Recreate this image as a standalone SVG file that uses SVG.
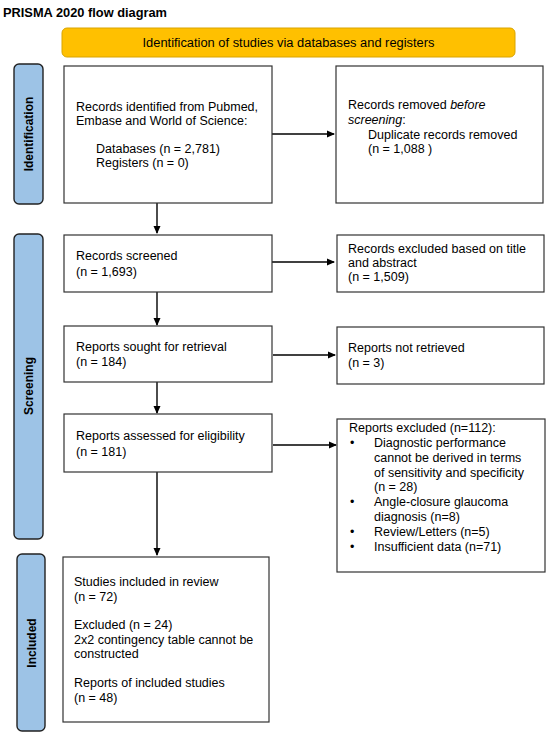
<svg xmlns="http://www.w3.org/2000/svg" width="550" height="737" viewBox="0 0 550 737">
<defs>
<marker id="ah" markerWidth="8" markerHeight="8" refX="7" refY="4" orient="auto" markerUnits="userSpaceOnUse">
<path d="M0,0.5 L8,4 L0,7.5 Z" fill="#000"/>
</marker>
<style>
.box{fill:#fff;stroke:#333;stroke-width:1.2}
.side{fill:#9DC3E6;stroke:#222;stroke-width:1.4}
.t{font-family:"Liberation Sans",Arial,sans-serif;font-size:12.5px;fill:#000}
.st{font-family:"Liberation Sans",Arial,sans-serif;font-size:12px;font-weight:bold;fill:#000}
.c{fill:none;stroke:#000;stroke-width:1.4}
</style>
</defs>
<rect width="550" height="737" fill="#fff"/>
<text x="3" y="17" font-family="'Liberation Sans',Arial,sans-serif" font-size="13" font-weight="bold" textLength="164" lengthAdjust="spacingAndGlyphs">PRISMA 2020 flow diagram</text>
<g id="banner">
<rect x="62" y="28" width="453" height="29" rx="5" fill="#FFC000" stroke="#D9A400" stroke-width="1"/>
<text x="288.5" y="47" text-anchor="middle" font-family="'Liberation Sans',Arial,sans-serif" font-size="12.5" textLength="292" lengthAdjust="spacingAndGlyphs">Identification of studies via databases and registers</text>
</g>
<g id="side-identification">
<rect class="side" x="14" y="64" width="29" height="140" rx="5"/>
<text class="st" transform="translate(33,134) rotate(-90)" text-anchor="middle">Identification</text>
</g>
<g id="side-screening">
<rect class="side" x="14" y="234" width="29" height="305" rx="5"/>
<text class="st" transform="translate(33,386) rotate(-90)" text-anchor="middle">Screening</text>
</g>
<g id="side-included">
<rect class="side" x="17" y="554" width="28" height="177" rx="5"/>
<text class="st" transform="translate(35.5,643) rotate(-90)" text-anchor="middle">Included</text>
</g>
<g id="connectors">
<line class="c" x1="272" y1="134" x2="334" y2="134" marker-end="url(#ah)"/>
<line class="c" x1="157" y1="203" x2="157" y2="233" marker-end="url(#ah)"/>
<line class="c" x1="272" y1="262" x2="334" y2="262" marker-end="url(#ah)"/>
<line class="c" x1="157" y1="292" x2="157" y2="325" marker-end="url(#ah)"/>
<line class="c" x1="273" y1="355" x2="335" y2="355" marker-end="url(#ah)"/>
<line class="c" x1="157" y1="382" x2="157" y2="413" marker-end="url(#ah)"/>
<line class="c" x1="273" y1="445" x2="336" y2="445" marker-end="url(#ah)"/>
<line class="c" x1="157" y1="472" x2="157" y2="555" marker-end="url(#ah)"/>
</g>
<g id="records-identified">
<rect class="box" x="64" y="66" width="208" height="137"/>
<text class="t" x="76" y="111">Records identified from Pubmed,</text>
<text class="t" x="76" y="125">Embase and World of Science:</text>
<text class="t" x="96" y="153">Databases (n = 2,781)</text>
<text class="t" x="96" y="167">Registers (n = 0)</text>
</g>
<g id="records-removed">
<rect class="box" x="336" y="66" width="207" height="137"/>
<text class="t" x="348" y="109">Records removed <tspan font-style="italic">before</tspan></text>
<text class="t" x="348" y="124"><tspan font-style="italic">screening</tspan>:</text>
<text class="t" x="368" y="139">Duplicate records removed</text>
<text class="t" x="368" y="153">(n = 1,088 )</text>
</g>
<g id="records-screened">
<rect class="box" x="64" y="235" width="208" height="57"/>
<text class="t" x="76" y="260">Records screened</text>
<text class="t" x="76" y="276">(n = 1,693)</text>
</g>
<g id="records-excluded">
<rect class="box" x="337" y="235" width="207" height="57"/>
<text class="t" x="348" y="253">Records excluded based on title</text>
<text class="t" x="348" y="267">and abstract</text>
<text class="t" x="348" y="281">(n = 1,509)</text>
</g>
<g id="reports-sought">
<rect class="box" x="64" y="326" width="208" height="56"/>
<text class="t" x="76" y="351">Reports sought for retrieval</text>
<text class="t" x="76" y="366">(n = 184)</text>
</g>
<g id="reports-not-retrieved">
<rect class="box" x="337" y="327" width="207" height="57"/>
<text class="t" x="348" y="352">Reports not retrieved</text>
<text class="t" x="348" y="367">(n = 3)</text>
</g>
<g id="reports-assessed">
<rect class="box" x="64" y="414" width="208" height="58"/>
<text class="t" x="76" y="440">Reports assessed for eligibility</text>
<text class="t" x="76" y="456">(n = 181)</text>
</g>
<g id="reports-excluded">
<rect class="box" x="337" y="419" width="208" height="153"/>
<text class="t" x="349" y="432">Reports excluded (n=112):</text>
<text class="t" x="350" y="447">•</text>
<text class="t" x="374" y="447">Diagnostic performance</text>
<text class="t" x="374" y="462">cannot be derived in terms</text>
<text class="t" x="374" y="477">of sensitivity and specificity</text>
<text class="t" x="374" y="491">(n = 28)</text>
<text class="t" x="350" y="506">•</text>
<text class="t" x="374" y="506">Angle-closure glaucoma</text>
<text class="t" x="374" y="521">diagnosis (n=8)</text>
<text class="t" x="350" y="536">•</text>
<text class="t" x="374" y="536">Review/Letters (n=5)</text>
<text class="t" x="350" y="551">•</text>
<text class="t" x="374" y="551">Insufficient data (n=71)</text>
</g>
<g id="studies-included">
<rect class="box" x="63" y="557" width="206" height="165"/>
<text class="t" x="74" y="586">Studies included in review</text>
<text class="t" x="74" y="601">(n = 72)</text>
<text class="t" x="74" y="629">Excluded (n = 24)</text>
<text class="t" x="74" y="644">2x2 contingency table cannot be</text>
<text class="t" x="74" y="658">constructed</text>
<text class="t" x="74" y="687">Reports of included studies</text>
<text class="t" x="74" y="702">(n = 48)</text>
</g>
</svg>
